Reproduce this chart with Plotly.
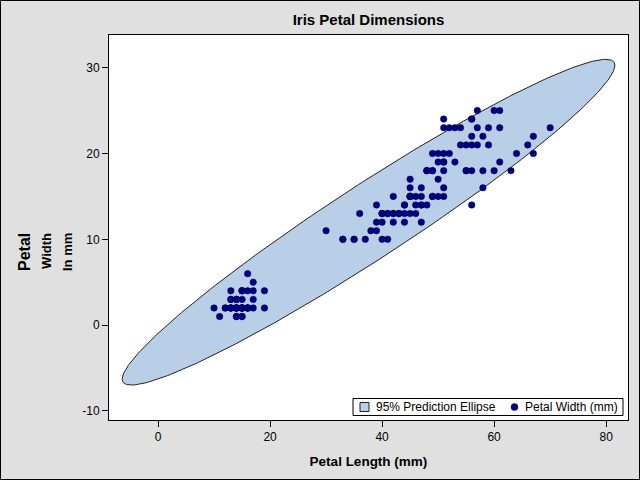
import numpy as np
import plotly.graph_objects as go

# Iris petal dimensions in mm (150 flowers)
petal_length = [14,14,13,15,14,17,14,15,14,15,15,16,14,11,12,15,13,14,17,15,
                17,15,10,17,19,16,16,15,14,16,16,15,15,14,15,12,13,14,13,15,
                13,13,13,16,19,14,16,14,15,14,
                47,45,49,40,46,45,47,33,46,39,35,42,40,47,36,44,45,41,45,39,
                48,40,49,47,43,44,48,50,45,35,38,37,39,51,45,45,47,44,41,40,
                44,46,40,33,42,42,42,43,30,41,
                60,51,59,56,58,66,45,63,58,61,51,53,55,50,51,53,55,67,70,50,
                57,49,67,49,57,60,48,49,56,58,61,64,56,51,56,61,56,55,48,54,
                56,51,51,59,57,52,50,52,54,51]
petal_width = [2,2,2,2,2,4,3,2,2,1,2,2,1,1,2,4,4,3,3,3,
               2,4,2,5,2,2,4,2,2,2,2,4,1,2,2,2,2,1,2,2,
               3,3,2,6,4,3,2,2,2,2,
               14,15,15,13,15,13,16,10,13,14,10,15,10,14,13,14,15,10,15,11,
               18,13,15,12,13,14,14,17,15,10,11,10,12,16,15,16,15,13,13,13,
               12,14,12,10,13,12,13,13,11,13,
               25,19,21,18,22,21,17,18,18,25,20,19,21,20,24,23,18,22,23,15,
               23,20,20,18,21,18,18,18,21,16,19,20,22,15,14,23,24,18,18,21,
               24,23,19,23,25,23,19,20,23,18]

x_ticks = [0, 20, 40, 60, 80]
y_ticks = [-10, 0, 10, 20, 30]
legend_labels = ["95% Prediction Ellipse", "Petal Width (mm)"]

# 95% prediction ellipse (as computed by SAS ELLIPSE TYPE=PREDICTED)
X = np.array(petal_length, float)
Y = np.array(petal_width, float)
n = len(X)
alpha = 0.05
df2 = n - 2
fq = df2 / 2.0 * (alpha ** (-2.0 / df2) - 1.0)  # F(2, n-2) quantile
c2 = 2 * (n - 1) * (n + 1) / (n * (n - 2)) * fq
mean = np.array([X.mean(), Y.mean()])
cov = np.cov(np.vstack([X, Y]))
vals, vecs = np.linalg.eigh(cov)
t = np.linspace(0, 2 * np.pi, 361)
circ = np.vstack([np.cos(t), np.sin(t)])
pts = vecs @ (np.sqrt(vals * c2)[:, None] * circ) + mean[:, None]
ex, ey = pts[0], pts[1]

FILL = "#B9CFE7"
DOT = "#000080"

fig = go.Figure()
fig.add_trace(go.Scatter(
    x=ex, y=ey, mode="lines", fill="toself",
    fillcolor=FILL, line=dict(color="#222222", width=1),
    name=legend_labels[0], hoverinfo="skip", showlegend=False))
fig.add_trace(go.Scatter(
    x=petal_length, y=petal_width, mode="markers",
    marker=dict(color=DOT, size=6.5, line=dict(color="#00005A", width=0.5)),
    name=legend_labels[1], showlegend=False))

W, H = 640, 480
ml, mr, mt, mb = 109, 12, 35, 60
pw, ph = W - ml - mr, H - mt - mb


def px(x):
    return (x - ml) / pw


def py(y):
    return 1 - (y - mt) / ph


fig.update_layout(
    width=W, height=H,
    margin=dict(l=ml, r=mr, t=mt, b=mb),
    paper_bgcolor="#E0E0E0", plot_bgcolor="white",
    font=dict(family="Liberation Sans, Arial, sans-serif", size=12, color="black"),
    title=dict(text="<b>Iris Petal Dimensions</b>", x=(ml + pw / 2) / W, xanchor="center",
               y=1 - 20 / H, yanchor="middle", font=dict(size=15)),
    showlegend=False,
    xaxis=dict(range=[-8.75, 83.9], tickvals=x_ticks, ticktext=[str(v) for v in x_ticks],
               showgrid=False, zeroline=False, showline=True, linecolor="black", linewidth=1,
               mirror=True, ticks="outside", ticklen=6, tickcolor="black",
               title=dict(text="<b>Petal Length (mm)</b>", font=dict(size=13.5), standoff=13)),
    yaxis=dict(range=[-11.05, 33.8], tickvals=y_ticks, ticktext=[str(v) for v in y_ticks],
               showgrid=False, zeroline=False, showline=True, linecolor="black", linewidth=1,
               mirror=True, ticks="outside", ticklen=6, tickcolor="black"),
)

# Multi-line y-axis label (rotated, top aligned)
for txt, xp, sz in [("<b>Petal</b>", 25, 16), ("<b>Width</b>", 47, 13), ("<b>In mm</b>", 68, 13)]:
    fig.add_annotation(text=txt, xref="paper", yref="paper",
                       x=px(xp), y=py(231),
                       textangle=-90, showarrow=False, xanchor="center", yanchor="top",
                       font=dict(size=sz, color="black"))

# Legend box (drawn manually to match the compact original)
fig.add_shape(type="rect", xref="paper", yref="paper",
              x0=px(353), x1=px(623), y0=py(415.5), y1=py(398.5),
              fillcolor="white", line=dict(color="black", width=1))
fig.add_shape(type="rect", xref="paper", yref="paper",
              x0=px(360), x1=px(369), y0=py(411.5), y1=py(402.5),
              fillcolor=FILL, line=dict(color="#222222", width=1))
fig.add_annotation(text=legend_labels[0], xref="paper", yref="paper",
                   x=px(374), y=py(407), xanchor="left", yanchor="middle",
                   showarrow=False, font=dict(size=12, color="black"))
fig.add_shape(type="circle", xref="paper", yref="paper",
              x0=px(511), x1=px(518), y0=py(410.5), y1=py(403.5),
              fillcolor=DOT, line=dict(color="#00005A", width=0.5))
fig.add_annotation(text=legend_labels[1], xref="paper", yref="paper",
                   x=px(523), y=py(407), xanchor="left", yanchor="middle",
                   showarrow=False, font=dict(size=12, color="black"))

# Outer border around the whole image
fig.add_shape(type="rect", xref="paper", yref="paper",
              x0=px(0.5), x1=px(W - 0.5), y0=py(H - 0.5), y1=py(0.5),
              line=dict(color="black", width=1), layer="below")

fig.write_html("out.html")
